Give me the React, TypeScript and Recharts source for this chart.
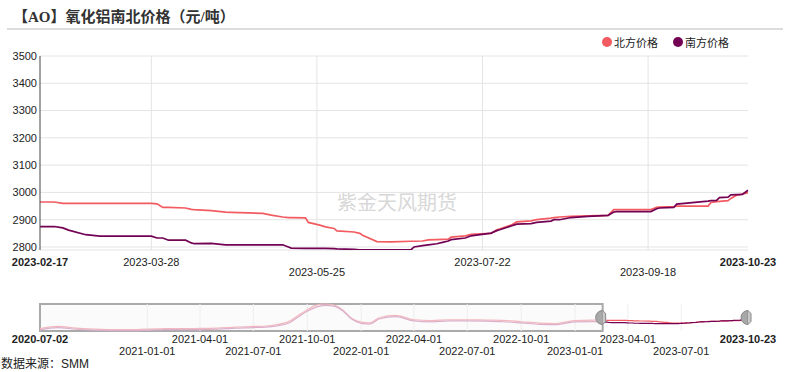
import {
  LineChart, Line, XAxis, YAxis, CartesianGrid, ReferenceLine, ReferenceArea, ReferenceDot,
} from 'recharts';

// 2023-02-17 ~ 2023-10-23, 元/吨
const dates = [
  '2023-02-17', '2023-02-22', '2023-02-25', '2023-02-27', '2023-03-05', '2023-03-10', '2023-03-17',
  '2023-03-28', '2023-03-30', '2023-04-01', '2023-04-03', '2023-04-09', '2023-04-11', '2023-04-12',
  '2023-04-18', '2023-04-23', '2023-04-25', '2023-05-06', '2023-05-09', '2023-05-13', '2023-05-15',
  '2023-05-16', '2023-05-21', '2023-05-22', '2023-05-26', '2023-05-28', '2023-05-31', '2023-06-01',
  '2023-06-07', '2023-06-09', '2023-06-10', '2023-06-15', '2023-06-20', '2023-06-27', '2023-06-28',
  '2023-07-01', '2023-07-03', '2023-07-06', '2023-07-08', '2023-07-10', '2023-07-11', '2023-07-16',
  '2023-07-18', '2023-07-25', '2023-07-27', '2023-07-28', '2023-08-01', '2023-08-03', '2023-08-08',
  '2023-08-10', '2023-08-15', '2023-08-16', '2023-08-18', '2023-08-22', '2023-08-28', '2023-09-04',
  '2023-09-06', '2023-09-07', '2023-09-19', '2023-09-21', '2023-09-22', '2023-09-27', '2023-09-28',
  '2023-10-09', '2023-10-10', '2023-10-12', '2023-10-13', '2023-10-16', '2023-10-17', '2023-10-19',
  '2023-10-21', '2023-10-23',
];
const north = [
  2965, 2965, 2960, 2960, 2960, 2960, 2960,
  2960, 2958, 2945, 2945, 2943, 2938, 2937,
  2933, 2928, 2927, 2923, 2917, 2910, 2908,
  2908, 2907, 2890, 2880, 2874, 2868, 2859,
  2855, 2850, 2843, 2820, 2819, 2821, 2821,
  2822, 2826, 2827, 2828, 2829, 2836, 2841,
  2846, 2850, 2863, 2866, 2880, 2892, 2896,
  2900, 2906, 2908, 2910, 2912, 2914, 2916,
  2937, 2937, 2937, 2945, 2946, 2948, 2950,
  2950, 2963, 2966, 2967, 2970, 2978, 2990,
  2994, 2999,
];
const south = [
  2875, 2875, 2870, 2862, 2845, 2840, 2840,
  2840, 2833, 2833, 2825, 2825, 2815, 2812,
  2813, 2808, 2808, 2808, 2808, 2808, 2800,
  2796, 2795, 2795, 2795, 2795, 2794, 2793,
  2791, 2790, 2790, 2790, 2790, 2790, 2800,
  2805, 2808, 2812, 2817, 2822, 2827, 2833,
  2841, 2851, 2860, 2863, 2877, 2884, 2886,
  2890, 2895, 2900, 2900, 2908, 2912, 2916,
  2928, 2930, 2930, 2940, 2943, 2945, 2957,
  2968, 2970, 2971, 2981, 2983, 2991, 2992,
  2993, 3008,
];

// history shown in the zoom slider, 2020-07-02 ~ 2023-02
const histDates = [
  '2020-07-02', '2020-08-01', '2020-09-01', '2020-10-01', '2020-11-01', '2020-12-01', '2021-01-01',
  '2021-02-01', '2021-03-01', '2021-04-01', '2021-05-01', '2021-06-01', '2021-07-01', '2021-08-01',
  '2021-09-01', '2021-09-15', '2021-10-01', '2021-10-15', '2021-11-01', '2021-11-15', '2021-12-01',
  '2021-12-15', '2022-01-01', '2022-01-15', '2022-02-01', '2022-03-01', '2022-04-01', '2022-05-01',
  '2022-06-01', '2022-07-01', '2022-08-01', '2022-09-01', '2022-10-01', '2022-11-01', '2022-12-01',
  '2022-12-15', '2023-01-01', '2023-02-01',
];
const histNorth = [
  2540, 2650, 2570, 2520, 2490, 2490, 2520,
  2540, 2545, 2550, 2570, 2620, 2650, 2700,
  2920, 3200, 3500, 3720, 3790, 3740, 3480,
  3080, 2870, 2830, 3090, 3210, 2990, 2950,
  2990, 2990, 2975, 2960, 2890, 2820, 2800,
  2870, 2950, 2970,
];
const histSouth = [
  2480, 2590, 2510, 2460, 2440, 2440, 2460,
  2490, 2490, 2490, 2510, 2560, 2590, 2640,
  2840, 3120, 3420, 3620, 3720, 3680, 3430,
  3040, 2810, 2770, 3030, 3150, 2930, 2880,
  2930, 2930, 2920, 2890, 2830, 2760, 2740,
  2810, 2880, 2900,
];

const yTicks = [2800, 2900, 3000, 3100, 3200, 3300, 3400, 3500];
const mainTicks = ['2023-02-17', '2023-03-28', '2023-05-25', '2023-07-22', '2023-09-18', '2023-10-23'];
const sliderTicks = [
  '2020-07-02', '2021-01-01', '2021-04-01', '2021-07-01', '2021-10-01', '2022-01-01', '2022-04-01',
  '2022-07-01', '2022-10-01', '2023-01-01', '2023-04-01', '2023-07-01', '2023-10-23',
];

const NORTH = '#F25B60';
const SOUTH = '#730255';
const LATIN = '"Liberation Sans", Arial, sans-serif';
const CJK = '"Liberation Sans", "Noto Sans CJK SC", sans-serif';

const toT = (d: string) => Date.parse(d);

const mainData = dates.map((d, i) => ({ t: toT(d), north: north[i], south: south[i] }));
const sliderData = [
  ...histDates.map((d, i) => ({ t: toT(d), hN: histNorth[i], hS: histSouth[i] })),
  ...dates.map((d, i) => ({
    t: toT(d),
    sN: north[i],
    sS: south[i],
    ...(i === 0 ? { hN: north[i], hS: south[i] } : {}),
  })),
];

const makeTick = (list: string[], lower: (i: number) => boolean, d1: number, d2: number) =>
  (props: any) => {
    const { x, y, payload } = props;
    const i = list.map(toT).indexOf(payload.value);
    const edge = i === 0 || i === list.length - 1;
    return (
      <text
        x={x}
        y={y}
        dy={lower(i) ? d2 : d1}
        textAnchor="middle"
        fill="#222"
        fontSize={11}
        fontWeight={edge ? 'bold' : 'normal'}
        fontFamily={LATIN}
      >
        {list[i]}
      </text>
    );
  };

const MainTick = makeTick(mainTicks, (i) => i === 2 || i === 4, 14, 24);
const SliderTick = makeTick(sliderTicks, (i) => i % 2 === 1, 10, 22);

const Handle = (props: any) => {
  const { cx, cy } = props;
  return (
    <g>
      <path
        d={`M${cx} ${cy - 7} A7 7 0 0 0 ${cx} ${cy + 7} Z`}
        fill="#a8a8a8"
        stroke="#888"
        strokeWidth={1}
      />
      <path d={`M${cx} ${cy - 7} L${cx + 3} ${cy - 4} L${cx + 3} ${cy + 4} L${cx} ${cy + 7}`} fill="#c8c8c8" stroke="#888" />
    </g>
  );
};

export default function App() {
  const t0 = toT(dates[0]);
  const t1 = toT(dates[dates.length - 1]);
  const s0 = toT(histDates[0]);

  return (
    <div style={{ position: 'absolute', left: 0, top: 0, width: 791, height: 372, background: '#fff', overflow: 'hidden' }}>
      {/* Title */}
      <div
        style={{
          position: 'absolute', left: 13, top: 5, fontSize: 15, fontWeight: 'bold', color: '#333',
          fontFamily: '"Liberation Serif", "Noto Sans CJK SC", serif', whiteSpace: 'nowrap',
        }}
      >
        【AO】氧化铝南北价格（元/吨）
      </div>
      <div style={{ position: 'absolute', left: 7, top: 28, width: 776, height: 2, background: '#dcdcdc' }} />

      {/* Legend */}
      {[
        { name: '北方价格', color: NORTH, left: 602 },
        { name: '南方价格', color: SOUTH, left: 673 },
      ].map((l) => (
        <div
          key={l.name}
          style={{
            position: 'absolute', left: l.left, top: 34, display: 'flex', alignItems: 'center',
            fontSize: 11, color: '#222', fontFamily: CJK, whiteSpace: 'nowrap',
          }}
        >
          <span style={{ width: 10, height: 10, borderRadius: 5, background: l.color, marginRight: 2 }} />
          {l.name}
        </div>
      ))}

      {/* Watermark */}
      <div
        style={{
          position: 'absolute', left: 337, top: 187, fontSize: 20, color: '#d8d8d8',
          fontFamily: '"Noto Sans CJK SC", sans-serif', whiteSpace: 'nowrap', pointerEvents: 'none',
        }}
      >
        紫金天风期货
      </div>

      {/* Main chart */}
      <div style={{ position: 'absolute', left: 0, top: 0 }}>
        <LineChart width={791} height={290} data={mainData} margin={{ top: 56, right: 43, left: 0, bottom: 0 }}>
          <CartesianGrid vertical={false} stroke="#e4e4e4" />
          {mainTicks.slice(1, -1).map((d) => (
            <ReferenceLine key={d} x={toT(d)} stroke="#e4e4e4" />
          ))}
          <XAxis
            type="number"
            dataKey="t"
            domain={[t0, t1]}
            ticks={mainTicks.map(toT)}
            interval={0}
            height={40}
            axisLine={false}
            tickLine={false}
            tickSize={0}
            tick={<MainTick />}
          />
          <YAxis
            width={40}
            domain={[2789, 3500]}
            ticks={yTicks}
            interval={0}
            allowDataOverflow
            axisLine={{ stroke: '#444' }}
            tickLine={false}
            tickSize={0}
            tickMargin={3}
            tick={{ fontSize: 11, fill: '#222', fontFamily: LATIN }}
          />
          <Line type="linear" dataKey="north" stroke={NORTH} strokeWidth={1.7} dot={false} isAnimationActive={false} />
          <Line type="linear" dataKey="south" stroke={SOUTH} strokeWidth={1.7} dot={false} isAnimationActive={false} />
        </LineChart>
      </div>

      {/* Zoom slider */}
      <div style={{ position: 'absolute', left: 0, top: 296 }}>
        <LineChart width={791} height={64} data={sliderData} margin={{ top: 8, right: 43, left: 40, bottom: 0 }}>
          {sliderTicks.slice(1, -1).map((d) => (
            <ReferenceLine key={d} x={toT(d)} stroke="#eeeeee" />
          ))}
          <ReferenceArea x1={s0} x2={t0} stroke="#aaaaaa" strokeWidth={2} fill="#f4f4f4" fillOpacity={0.35} />
          <XAxis
            type="number"
            dataKey="t"
            domain={[s0, t1]}
            ticks={sliderTicks.map(toT)}
            interval={0}
            height={29}
            axisLine={false}
            tickLine={false}
            tickSize={0}
            tick={<SliderTick />}
          />
          <YAxis hide domain={[2420, 3790]} />
          <Line type="monotone" dataKey="hN" stroke="#f2b8bd" strokeWidth={1.2} dot={false} isAnimationActive={false} />
          <Line type="monotone" dataKey="hS" stroke="#dcb0cc" strokeWidth={1.2} dot={false} isAnimationActive={false} />
          <Line type="linear" dataKey="sN" stroke={NORTH} strokeWidth={1.2} dot={false} isAnimationActive={false} />
          <Line type="linear" dataKey="sS" stroke={SOUTH} strokeWidth={1.2} dot={false} isAnimationActive={false} />
          <ReferenceDot x={t0} y={3105} r={0} shape={(p: any) => <Handle {...p} />} />
          <ReferenceDot x={t1} y={3105} r={0} shape={(p: any) => <Handle {...p} />} />
        </LineChart>
      </div>

      {/* Source */}
      <div
        style={{
          position: 'absolute', left: 1, top: 358, fontSize: 12, lineHeight: '13px', color: '#222',
          fontFamily: CJK, whiteSpace: 'nowrap',
        }}
      >
        数据来源：SMM
      </div>
    </div>
  );
}
